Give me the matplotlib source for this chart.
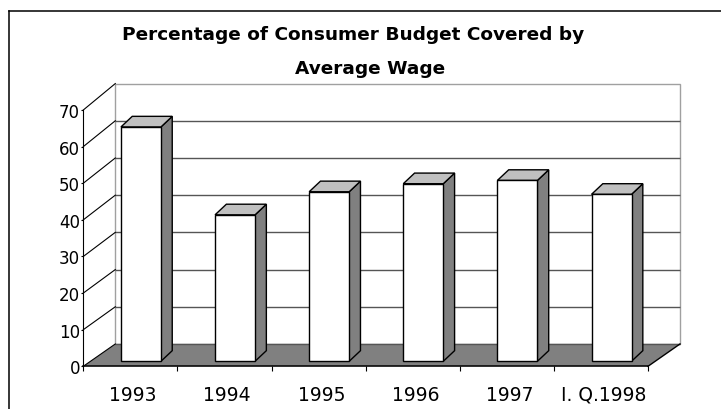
import matplotlib
matplotlib.use("Agg")
import matplotlib.pyplot as plt
from matplotlib.patches import Polygon, Rectangle
from matplotlib.lines import Line2D
from matplotlib.transforms import blended_transform_factory

# ---- data ----
categories = ["1993", "1994", "1995", "1996", "1997", "I. Q.1998"]
values = [64.0, 40.0, 46.3, 48.5, 49.4, 45.6]
y_ticks = [0, 10, 20, 30, 40, 50, 60, 70]
title_lines = ["Percentage of Consumer Budget Covered by", "Average Wage"]

plt.rcParams["font.family"] = ["DejaVu Sans"]

W, H = 721, 410
fig = plt.figure(figsize=(W / 100, H / 100), dpi=100)
fig.patch.set_facecolor("white")

# front plane of the 3-D box
ax = fig.add_axes([83.3 / W, (H - 367.3) / H, (648 - 83.3) / W, (367.3 - 111) / H])
n = len(categories)
ymax = y_ticks[-1]
ax.set_xlim(0, n)
ax.set_ylim(0, ymax)
ax.patch.set_alpha(0)

# depth of the box (data units)
DEPTH_X = 0.34
DEPTH_Y0 = 6.1
BACK_SCALE = 1.016


def back(v):
    return DEPTH_Y0 + BACK_SCALE * v


# floor
ax.add_patch(Polygon([(0, 0), (n, 0), (n + DEPTH_X, back(0)), (DEPTH_X, back(0))],
                     closed=True, fc="#808080", ec="none", zorder=0.5, clip_on=False))
# back wall
ax.add_patch(Polygon([(DEPTH_X, back(0)), (n + DEPTH_X, back(0)),
                      (n + DEPTH_X, back(ymax)), (DEPTH_X, back(ymax))],
                     closed=True, fc="white", ec="#a0a0a0", lw=1.0, zorder=0.4, clip_on=False))
# gridlines on the back wall
for v in y_ticks[:-1]:
    ax.plot([DEPTH_X, n + DEPTH_X], [back(v), back(v)], color="#555555", lw=1.0,
            zorder=0.6, clip_on=False, solid_capstyle="butt")
# gridlines across the side wall
for v in y_ticks:
    ax.plot([0, DEPTH_X], [v, back(v)], color="black", lw=0.8, zorder=0.7, clip_on=False)
# right edge of the floor
ax.plot([n, n + DEPTH_X], [0, back(0)], color="black", lw=1.0, zorder=0.7, clip_on=False)

# 3-D bars
BAR_X0 = 0.40
BAR_W = 0.425
BAR_BASE = 1.37
BAR_DX = 0.12
BAR_DY = 2.9
for i, v in enumerate(values):
    xl = i + BAR_X0
    xr = xl + BAR_W
    b = BAR_BASE
    t = b + v
    ax.add_patch(Polygon([(xr, b), (xr + BAR_DX, b + BAR_DY), (xr + BAR_DX, t + BAR_DY), (xr, t)],
                         closed=True, fc="#808080", ec="black", lw=1.0, zorder=3,
                         joinstyle="miter", clip_on=False))
    ax.add_patch(Polygon([(xl, t), (xl + BAR_DX, t + BAR_DY), (xr + BAR_DX, t + BAR_DY), (xr, t)],
                         closed=True, fc="#c0c0c0", ec="black", lw=1.0, zorder=3,
                         joinstyle="miter", clip_on=False))
    ax.add_patch(Rectangle((xl, b), BAR_W, v, fc="white", ec="black", lw=1.0, zorder=3.1,
                           joinstyle="miter", clip_on=False))

# axes
for s in ("top", "right"):
    ax.spines[s].set_visible(False)
ax.spines["bottom"].set_linewidth(1.1)
ax.spines["left"].set_linewidth(0.8)
ax.spines["bottom"].set_zorder(4)
ax.spines["left"].set_zorder(4)

ax.set_xticks(range(n + 1))
ax.set_xticklabels([])
ax.tick_params(axis="x", direction="out", length=3.3, width=0.8, color="black")
ax.set_yticks(y_ticks)
ax.set_yticklabels([str(t) for t in y_ticks], fontsize=12)
ax.tick_params(axis="y", direction="out", length=1.8, width=0.8, pad=0.6, color="black")

trans = blended_transform_factory(ax.transData, ax.transAxes)
for i, cat in enumerate(categories):
    ax.text(i + 0.53, -0.1303, cat, transform=trans, ha="center", va="baseline",
            fontsize=13.5, color="black")

# title
fig.text(352.7 / W, 1 - 40 / H, title_lines[0], ha="center", va="baseline",
         fontsize=13.3, fontweight="bold")
fig.text(369.7 / W, 1 - 74 / H, title_lines[1], ha="center", va="baseline",
         fontsize=13.3, fontweight="bold")

# chart-area border
fx, fy = 9 / W, 1 - 12 / H
fig.add_artist(Line2D([fx, fx], [0, fy], transform=fig.transFigure, color="black", lw=1.1))
fig.add_artist(Line2D([fx, 1], [fy, fy], transform=fig.transFigure, color="black", lw=1.1))

fig.savefig("out.png", dpi=100, facecolor="white")
